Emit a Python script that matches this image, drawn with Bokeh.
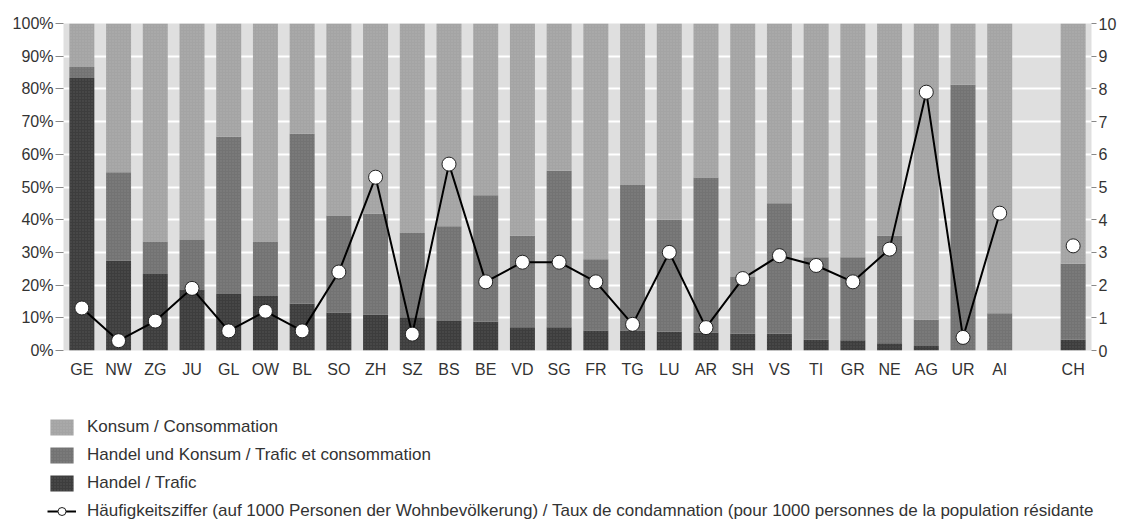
from bokeh.plotting import figure
from bokeh.layouts import column
from bokeh.models import (FactorRange, Range1d, LinearAxis, FixedTicker,
                          PrintfTickFormatter, Legend, LegendItem, ColumnDataSource)
from bokeh.embed import file_html
from bokeh.resources import INLINE

cantons = ["GE", "NW", "ZG", "JU", "GL", "OW", "BL", "SO", "ZH", "SZ", "BS", "BE", "VD",
           "SG", "FR", "TG", "LU", "AR", "SH", "VS", "TI", "GR", "NE", "AG", "UR", "AI", "CH"]
handel = [83.3, 27.5, 23.4, 18.5, 17.3, 16.7, 14.3, 11.6, 11.0, 10.2, 9.0, 8.8, 7.1,
          7.1, 6.1, 6.1, 5.7, 5.5, 5.1, 5.1, 3.3, 3.1, 2.2, 1.4, 0.0, 0.0, 3.3]
handel_konsum = [3.4, 27.0, 9.9, 15.3, 48.1, 16.6, 52.0, 29.7, 30.8, 25.7, 29.0, 38.7, 28.0,
                 47.9, 21.8, 44.5, 34.3, 47.4, 17.4, 39.9, 25.2, 25.4, 32.9, 8.0, 81.3, 11.4, 23.2]
konsum = [13.3, 45.5, 66.7, 66.2, 34.6, 66.7, 33.7, 58.7, 58.2, 64.1, 62.0, 52.5, 64.9,
          45.0, 72.1, 49.4, 60.0, 47.1, 77.5, 55.0, 71.5, 71.5, 64.9, 90.6, 18.7, 88.6, 73.5]
rate = [1.3, 0.3, 0.9, 1.9, 0.6, 1.2, 0.6, 2.4, 5.3, 0.5, 5.7, 2.1, 2.7,
        2.7, 2.1, 0.8, 3.0, 0.7, 2.2, 2.9, 2.6, 2.1, 3.1, 7.9, 0.4, 4.2, 3.2]
pct_ticks = list(range(0, 101, 10))
rate_ticks = list(range(0, 11))
legend_labels = [
    "Konsum / Consommation",
    "Handel und Konsum / Trafic et consommation",
    "Handel / Trafic",
    "Häufigkeitsziffer (auf 1000 Personen der Wohnbevölkerung) / Taux de condamnation (pour 1000 personnes de la population résidante",
]

FONT = "Liberation Sans"
TXT = "#333333"
COLORS = ["#3d3d3d", "#737373", "#a4a4a4"]
HATCH = dict(hatch_pattern="dot", hatch_scale=3, hatch_color="white",
             hatch_alpha=0.12, hatch_weight=1)
factors = cantons[:-1] + [" "] + cantons[-1:]

src = ColumnDataSource(dict(canton=cantons, handel=handel, hk=handel_konsum,
                            konsum=konsum, rate=rate))
line_src = ColumnDataSource(dict(canton=cantons[:-1], rate=rate[:-1]))

p = figure(width=1121, height=388, x_range=FactorRange(factors=factors, range_padding=0),
           y_range=Range1d(0, 100), output_backend="svg", toolbar_location=None,
           min_border_left=63, min_border_right=30, min_border_top=23, min_border_bottom=38)
p.extra_y_ranges = {"rate": Range1d(0, 10)}
p.outline_line_color = None
p.background_fill_color = "#dfdfdf"

p.vbar_stack(["handel", "hk", "konsum"], x="canton", width=0.68, source=src,
             color=COLORS, line_color=None, **HATCH)
p.line("canton", "rate", source=line_src, y_range_name="rate",
       line_color="black", line_width=2)
p.scatter("canton", "rate", source=src, y_range_name="rate", size=14,
          fill_color="white", line_color="#222222", line_width=1)

p.ygrid.ticker = FixedTicker(ticks=pct_ticks)
p.ygrid.grid_line_color = "white"
p.ygrid.grid_line_width = 2
p.xgrid.grid_line_color = None


def style_axis(ax):
    ax.axis_line_color = None
    ax.major_tick_out = 8
    ax.major_tick_in = 0
    ax.minor_tick_line_color = None
    ax.major_tick_line_color = "#888888"
    ax.major_label_standoff = 2
    ax.major_label_text_font = FONT
    ax.major_label_text_font_size = "16px"
    ax.major_label_text_color = TXT


ya = p.yaxis[0]
ya.ticker = FixedTicker(ticks=pct_ticks)
ya.formatter = PrintfTickFormatter(format="%d%%")
style_axis(ya)

ra = LinearAxis(y_range_name="rate", ticker=FixedTicker(ticks=rate_ticks))
style_axis(ra)
ra.major_tick_out = 5
p.add_layout(ra, "right")

xa = p.xaxis[0]
xa.axis_line_color = None
xa.major_tick_line_color = None
xa.major_tick_out = 0
xa.major_tick_in = 0
xa.major_label_standoff = 10
xa.major_label_text_font = FONT
xa.major_label_text_font_size = "16px"
xa.major_label_text_color = TXT

# legend panel: a second figure below the chart; its renderers reuse the data but are hidden
lf = figure(width=1121, height=134, x_range=FactorRange(factors=factors),
            y_range=Range1d(0, 100), output_backend="svg", toolbar_location=None,
            x_axis_type=None, y_axis_type=None, min_border=0)
lf.outline_line_color = None
lf.xgrid.visible = False
lf.ygrid.visible = False
for fig in (p, lf):
    if "frame_align" in fig.properties():
        fig.frame_align = False

lb = lf.vbar_stack(["handel", "hk", "konsum"], x="canton", width=0.68, source=src,
                   color=COLORS, line_color=None, visible=False, **HATCH)
l_ln = lf.line("canton", "rate", source=line_src, line_color="black", line_width=2,
               visible=False)
l_sc = lf.scatter("canton", "rate", source=src, size=14, fill_color="white",
                  line_color="#222222", line_width=1, visible=False)

legend = Legend(items=[
    LegendItem(label=legend_labels[0], renderers=[lb[2]]),
    LegendItem(label=legend_labels[1], renderers=[lb[1]]),
    LegendItem(label=legend_labels[2], renderers=[lb[0]]),
    LegendItem(label=legend_labels[3], renderers=[l_ln, l_sc]),
], location=(47, 1), orientation="vertical")
legend.background_fill_alpha = 0
legend.border_line_color = None
legend.inactive_fill_alpha = 0
legend.padding = 0
legend.margin = 0
legend.spacing = 8
legend.glyph_width = 29
legend.glyph_height = 20
legend.label_standoff = 11
legend.label_text_font = FONT
legend.label_text_font_size = "17px"
legend.label_text_color = TXT
legend.label_height = 20
lf.add_layout(legend, "center")

layout = column(p, lf, spacing=0)
open("out.html", "w").write(file_html(layout, INLINE))
